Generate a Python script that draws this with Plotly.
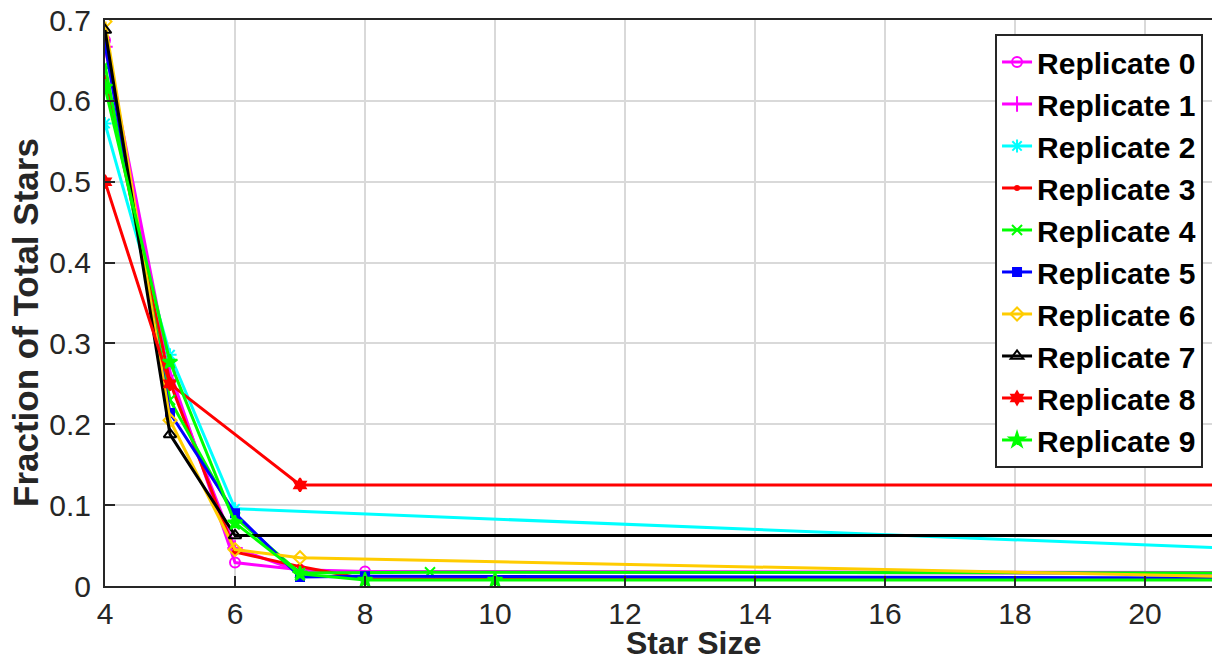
import plotly.graph_objects as go

# ---- data ----
names = [f"Replicate {i}" for i in range(10)]

rep_x = [
    [4, 5, 6, 7, 8, 22],          # Replicate 0
    [4, 5, 6, 7, 22],             # Replicate 1
    [4, 5, 6, 22],                # Replicate 2
    [4, 5, 6, 7, 8, 10, 22],      # Replicate 3
    [4, 5, 6, 7, 9, 22],          # Replicate 4
    [4, 5, 6, 7, 8, 22],          # Replicate 5
    [4, 5, 6, 7, 22],             # Replicate 6
    [4, 5, 6, 22],                # Replicate 7
    [4, 5, 7, 22],                # Replicate 8
    [4, 5, 6, 7, 8, 10, 22],      # Replicate 9
]
rep_y = [
    [0.675, 0.265, 0.029, 0.020, 0.018, 0.0155],
    [0.667, 0.255, 0.047, 0.018, 0.0165],
    [0.572, 0.286, 0.0955, 0.0444],
    [0.629, 0.252, 0.042, 0.024, 0.0087, 0.0087, 0.0087],
    [0.644, 0.230, 0.085, 0.016, 0.017, 0.016],
    [0.670, 0.214, 0.090, 0.011, 0.012, 0.0099],
    [0.698, 0.205, 0.045, 0.035, 0.0105],
    [0.6875, 0.1875, 0.0625, 0.0625],
    [0.500, 0.250, 0.125, 0.125],
    [0.617, 0.277, 0.078, 0.015, 0.0074, 0.0074, 0.0074],
]

colors = ["#FF00FF", "#FF00FF", "#00FFFF", "#FF0000", "#00FF00",
          "#0000FF", "#FFCC00", "#000000", "#FF0000", "#00FF00"]
symbols = ["circle-open", "cross-thin-open", "asterisk-open", "circle",
           "x-thin-open", "square", "diamond-open", "triangle-up-open",
           "hexagram", "star"]
msizes = [10, 11, 11, 4, 10, 8, 10, 11, 10, 11]

x_ticks = [4, 6, 8, 10, 12, 14, 16, 18, 20]
y_ticks = [0, 0.1, 0.2, 0.3, 0.4, 0.5, 0.6, 0.7]
x_title = "Star Size"
y_title = "Fraction of Total Stars"

FONT = "Liberation Sans, Arial, sans-serif"

fig = go.Figure()
for i in range(10):
    fig.add_trace(go.Scatter(
        x=rep_x[i], y=rep_y[i], name=names[i], mode="lines+markers",
        line=dict(color=colors[i], width=3),
        marker=dict(symbol=symbols[i], size=msizes[i], color=colors[i],
                    line=dict(color=colors[i], width=2)),
    ))

axis_common = dict(
    showline=True, linecolor="#262626", linewidth=2,
    showgrid=True, gridcolor="#d9d9d9", gridwidth=2,
    ticks="inside", ticklen=10, tickwidth=2, tickcolor="#262626",
    tickfont=dict(family=FONT, size=30, color="#262626"),
    zeroline=False,
)

fig.update_xaxes(
    range=[4, 21.03], tickvals=x_ticks, ticktext=[str(v) for v in x_ticks],
    mirror=True, **axis_common,
)
fig.update_yaxes(
    range=[0, 0.7], tickvals=y_ticks,
    ticktext=["0", "0.1", "0.2", "0.3", "0.4", "0.5", "0.6", "0.7"],
    ticklabelstandoff=6, **axis_common,
)

fig.add_annotation(
    text=f"<b>{x_title}</b>", xref="paper", yref="paper",
    x=0.532, y=-0.101, xanchor="center", yanchor="middle", showarrow=False,
    font=dict(family=FONT, size=32, color="#262626"),
)
fig.add_annotation(
    text=f"<b>{y_title}</b>", xref="paper", yref="paper", textangle=-90,
    x=-0.0723, y=0.4664, xanchor="center", yanchor="middle", showarrow=False,
    font=dict(family=FONT, size=35, color="#262626"),
)

fig.update_layout(
    width=1212, height=660,
    margin=dict(l=105, r=0, t=20, b=74, autoexpand=False),
    plot_bgcolor="white", paper_bgcolor="white",
    legend=dict(
        x=0.9919, y=0.9753, xanchor="right", yanchor="top",
        bgcolor="white", bordercolor="#262626", borderwidth=2,
        font=dict(family=FONT, size=30, color="#000000", weight="bold"),
        itemwidth=30, tracegroupgap=0,
    ),
    showlegend=True,
)

fig.write_html("out.html", config={"displayModeBar": False},
               post_script="document.body.style.margin='0';")
